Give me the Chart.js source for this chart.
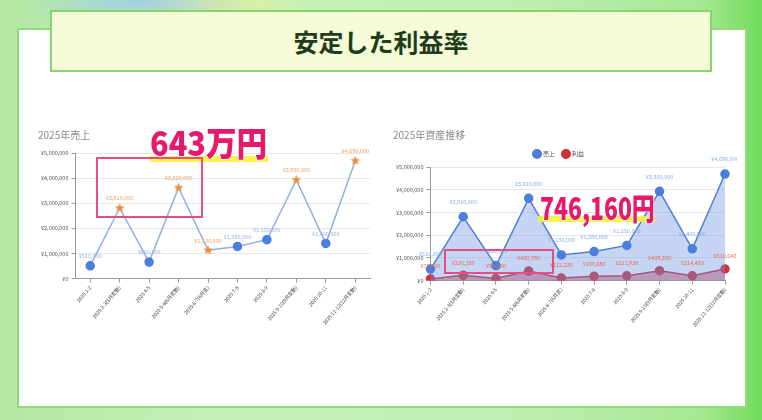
<!DOCTYPE html>
<html><head><meta charset="utf-8">
<script src="https://cdn.jsdelivr.net/npm/chart.js@4.4.1/dist/chart.umd.min.js"></script>
<style>
html,body{margin:0;padding:0;}
body{width:762px;height:420px;overflow:hidden;position:relative;font-family:"Noto Sans CJK JP","Noto Sans",sans-serif;
background:
radial-gradient(ellipse 120px 40px at 140px 0px, rgba(150,200,240,0.8), rgba(150,200,240,0) ),
radial-gradient(ellipse 100px 40px at 210px 0px, rgba(240,240,140,0.8), rgba(240,240,140,0) ),
linear-gradient(to right,#b4e8a4 0%,#c6f0b8 30%,#bdeeb0 70%,#a6e892 92%,#6fdc5c 100%);}
#panel{position:absolute;left:17px;top:28px;width:726px;height:376px;background:#fff;border:2px solid #92d97c;box-sizing:content-box;}
#titlebox{position:absolute;left:50px;top:10px;width:658px;height:58px;background:#f4fbd6;border:2px solid #86d46e;
display:flex;align-items:center;justify-content:center;font-size:25px;font-weight:bold;color:#1f3d1c;}
.cw{position:absolute;}
canvas{display:block;}
.big{position:absolute;font-family:"Noto Sans CJK JP","Noto Sans",sans-serif;font-weight:900;color:#e8196a;
-webkit-text-stroke:1px #fff;paint-order:stroke fill;text-shadow:0 0 2px #fff;white-space:nowrap;line-height:1;transform-origin:0 0;}
.hl{position:absolute;background:#f7f23a;opacity:0.9;}
.box{position:absolute;border:2px solid #e64d80;box-sizing:border-box;}
</style></head>
<body>
<div id="panel"></div>
<div id="titlebox">安定した利益率</div>
<div class="cw" style="left:28px;top:125px;"><canvas id="c1" width="352" height="225"></canvas></div>
<div class="cw" style="left:381px;top:125px;"><canvas id="c2" width="356" height="225"></canvas></div>
<div class="hl" style="left:150px;top:156px;width:118px;height:6px;"></div>
<div class="big" style="left:150px;top:125px;font-size:34px;transform:scaleX(0.9);">643万円</div>
<div class="box" style="left:96px;top:157px;width:107px;height:61px;"></div>
<div class="hl" style="left:538px;top:216px;width:117px;height:6px;"></div>
<div class="big" style="left:540px;top:191px;font-size:31px;transform:scaleX(0.74);">746,160円</div>
<div class="box" style="left:444px;top:249px;width:110px;height:25px;"></div>
<script>
const categories = ["2025 1-2","2025 2-3(3月変動)","2025 4-5","2025 5-6(6月変動)","2025 6-7(6月変)","2025 7-8","2025 8-9","2025 9-10(9月変動)","2025 10-11","2025 11-12(12月変動)"];
const sales = [510000,2810000,660000,3620000,1130000,1280000,1550000,3930000,1400000,4690000];
const profit = [75000,235380,90000,420780,112230,190680,211930,438320,214420,510640];
const highlighted = [false,true,false,true,true,false,false,true,false,true];
const yTicks = [0,1000000,2000000,3000000,4000000,5000000];

const yen = v => '¥' + Number(v).toLocaleString('en-US');
const FONT = '"Noto Sans CJK JP","Noto Sans",sans-serif';

function makeStar(r,color){
  const c=document.createElement('canvas');c.width=r*2+2;c.height=r*2+2;
  const g=c.getContext('2d');g.fillStyle=color;g.beginPath();
  for(let i=0;i<10;i++){const rr=i%2?r*0.45:r;const a=-Math.PI/2+i*Math.PI/5;
    g.lineTo(r+1+rr*Math.cos(a),r+1+rr*Math.sin(a));}
  g.closePath();g.fill();return c;
}
const star=makeStar(5,'#f08c3a');

const labelPlugin={id:'vlabels',afterDatasetsDraw(chart){
  const ctx=chart.ctx;ctx.save();
  chart.data.datasets.forEach((ds,i)=>{
    const meta=chart.getDatasetMeta(i);if(meta.hidden)return;
    meta.data.forEach((pt,j)=>{
      const col=Array.isArray(ds.labelColor)?ds.labelColor[j]:ds.labelColor;
      ctx.fillStyle=col;ctx.font='5.5px '+FONT;ctx.textAlign='center';ctx.textBaseline='bottom';
      ctx.fillText(yen(ds.data[j]),pt.x,pt.y-(ds.labelOffset||8));
    });
  });ctx.restore();}};

function yScale(){return {min:0,max:5000000,afterBuildTicks:ax=>{ax.ticks=yTicks.map(v=>({value:v}));},
  ticks:{callback:v=>yen(v),font:{size:5.5,family:FONT},color:'#555',padding:3},
  grid:{color:'#e8e8e8',tickLength:4,tickColor:'#999'},border:{color:'#999'}};}
function xScale(offset){return {offset:offset,grid:{drawOnChartArea:false,tickLength:4,color:'#999'},border:{color:'#999'},
  ticks:{minRotation:50,maxRotation:50,font:{size:5,family:FONT},color:'#444',autoSkip:false,padding:2}};}

new Chart(document.getElementById('c1'),{type:'line',
  data:{labels:categories,datasets:[{label:'売上',data:sales,borderColor:'#8eaeea',borderWidth:1.5,tension:0,
    pointStyle:highlighted.map(h=>h?star:'circle'),pointRadius:4,pointBackgroundColor:highlighted.map(h=>h?'#f08c3a':'#4a7fdc'),
    pointBorderColor:highlighted.map(h=>h?'#f08c3a':'#4a7fdc'),
    labelColor:highlighted.map(h=>h?'#f0a060':'#95b2ea'),labelOffset:7}]},
  options:{responsive:false,animation:false,devicePixelRatio:1,
    layout:{padding:{left:10,right:10,top:0,bottom:22}},
    plugins:{legend:{display:false},tooltip:{enabled:false},
      title:{display:true,text:'2025年売上',align:'start',color:'#8a8a8a',font:{size:10,family:FONT,weight:'normal'},padding:{top:4,bottom:12}}},
    scales:{x:xScale(true),y:yScale()}},
  plugins:[labelPlugin]});

new Chart(document.getElementById('c2'),{type:'line',
  data:{labels:categories,datasets:[
    {label:'売上',data:sales,borderColor:'#4f7fd6',backgroundColor:'rgba(110,150,225,0.4)',fill:'origin',borderWidth:1.5,tension:0,
     pointRadius:4,pointBackgroundColor:'#4a7fdc',pointBorderColor:'#4a7fdc',labelColor:'#8eaaea',labelOffset:12},
    {label:'利益',data:profit,borderColor:'#c9303a',backgroundColor:'rgba(210,60,70,0.5)',fill:'origin',borderWidth:1.5,tension:0,
     pointRadius:4,pointBackgroundColor:'#d0303a',pointBorderColor:'#d0303a',labelColor:'#ee6a4a',labelOffset:10}]},
  options:{responsive:false,animation:false,devicePixelRatio:1,
    layout:{padding:{left:12,right:12,top:0,bottom:20}},
    plugins:{tooltip:{enabled:false},
      legend:{display:true,position:'top',labels:{usePointStyle:true,pointStyle:'circle',boxWidth:6,boxHeight:6,font:{size:6,family:FONT},color:'#555',padding:8}},
      title:{display:true,text:'2025年資産推移',align:'start',color:'#8a8a8a',font:{size:10,family:FONT,weight:'normal'},padding:{top:4,bottom:2}}},
    scales:{x:xScale(false),y:yScale()}},
  plugins:[labelPlugin]});
</script>
</body></html>
